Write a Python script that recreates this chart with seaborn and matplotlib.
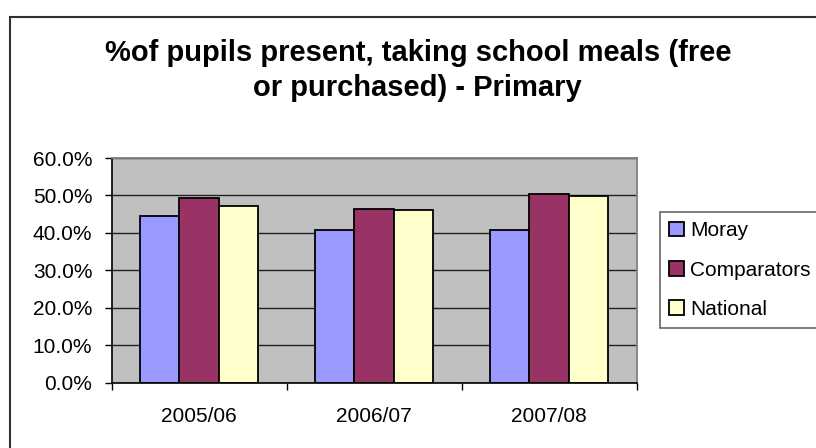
import seaborn as sns
import matplotlib.pyplot as plt
import pandas as pd
from matplotlib.patches import Rectangle, Patch
from matplotlib.ticker import FuncFormatter, MultipleLocator, FixedLocator

# ==========================================
# DATA
# ==========================================

years = ["2005/06", "2006/07", "2007/08"]
series = ["Moray", "Comparators", "National"]

moray = [44.4, 40.7, 40.8]
comparators = [49.3, 46.5, 50.5]
national = [47.2, 46.1, 49.9]

colors = ["#9999FF", "#993366", "#FFFFCC"]

df = pd.DataFrame({
    "Year": years * 3,
    "Series": [s for s in series for _ in years],
    "Value": moray + comparators + national,
})

# ==========================================
# CHART
# ==========================================

sns.set_style("white")
plt.rcParams['font.family'] = ['Liberation Sans', 'DejaVu Sans']
plt.rcParams['text.color'] = 'black'
plt.rcParams['xtick.color'] = 'black'
plt.rcParams['ytick.color'] = 'black'

fig = plt.figure(figsize=(8.16, 4.48), dpi=100)
ax = fig.add_axes([0.1369, 0.1458, 0.6434, 0.5015])
ax.set_facecolor("#C0C0C0")

# gridlines under the bars
ax.yaxis.grid(True, color="#202020", linewidth=1.0)
ax.set_axisbelow(True)

sns.barplot(
    data=df,
    x="Year",
    y="Value",
    hue="Series",
    hue_order=series,
    order=years,
    palette=colors,
    width=0.677,
    gap=0,
    edgecolor="black",
    linewidth=1.3,
    saturation=1,
    ax=ax,
)

ax.set_xlim(-0.5, 2.5)
ax.set_ylim(0, 60)
ax.yaxis.set_major_locator(MultipleLocator(10))
ax.yaxis.set_major_formatter(FuncFormatter(lambda v, p: f"{v:.1f}%"))

ax.set_xlabel("")
ax.set_ylabel("")

# ticks
ax.tick_params(axis="y", which="major", length=5, width=1, color="black",
               direction="out", pad=9, labelsize=15, left=True,
               labelcolor="black")
ax.tick_params(axis="x", which="major", length=0, pad=17.5, labelsize=15,
               labelcolor="black")
ax.xaxis.set_minor_locator(FixedLocator([-0.5, 0.5, 1.5, 2.5]))
ax.tick_params(axis="x", which="minor", length=5, width=1, color="black",
               direction="out", bottom=True)

for side in ["top", "right"]:
    ax.spines[side].set_color("#808080")
    ax.spines[side].set_linewidth(1.3)
for side in ["left", "bottom"]:
    ax.spines[side].set_color("black")
    ax.spines[side].set_linewidth(1.2)

# legend
ax.get_legend().remove()
handles = [Patch(facecolor=c, edgecolor="black", linewidth=1.3) for c in colors]
leg = fig.legend(
    handles,
    series,
    loc="upper left",
    bbox_to_anchor=(0.8088, 0.2656, 0.25, 0.2612),
    mode="expand",
    fontsize=15,
    frameon=True,
    fancybox=False,
    handlelength=0.7,
    handleheight=0.7,
    handletextpad=0.3,
    labelspacing=0.97,
    borderpad=0.45,
    borderaxespad=0,
)
leg.get_frame().set_edgecolor("#404040")
leg.get_frame().set_linewidth(1.2)
for t in leg.get_texts():
    t.set_color("black")

# title
fig.text(0.512, 0.882, "%of pupils present, taking school meals (free",
         ha="center", va="center", fontsize=21, fontweight="bold",
         color="black")
fig.text(0.512, 0.803, "or purchased) - Primary",
         ha="center", va="center", fontsize=21, fontweight="bold",
         color="black")

# outer chart border
fig.patches.append(Rectangle(
    (10.4 / 816, -0.1), 1.0, (448 - 16.7) / 448 + 0.1,
    transform=fig.transFigure, fill=False, edgecolor="#303030", linewidth=1.5,
))

plt.savefig("out.png", dpi=100)
